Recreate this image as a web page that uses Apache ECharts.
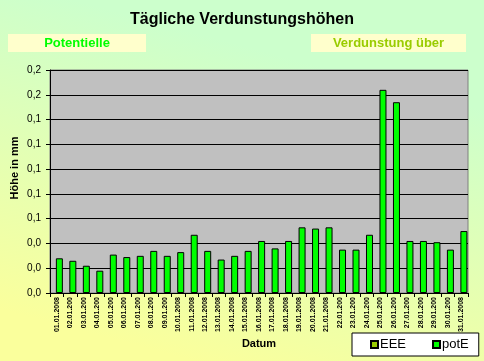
<!DOCTYPE html>
<html>
<head>
<meta charset="utf-8">
<style>
html,body{margin:0;padding:0;}
#chart{width:484px;height:361px;}
</style>
<script src="https://cdn.jsdelivr.net/npm/echarts@6/dist/echarts.min.js"></script>
</head>
<body>
<div id="chart"></div>
<script>
const categories = ['01.01.2008','02.01.200','03.01.200','04.01.200','05.01.200','06.01.200','07.01.200','08.01.200','09.01.200','10.01.2008','11.01.2008','12.01.2008','13.01.2008','14.01.2008','15.01.2008','16.01.2008','17.01.2008','18.01.2008','19.01.2008','20.01.2008','21.01.2008','22.01.200','23.01.200','24.01.200','25.01.200','26.01.200','27.01.200','28.01.200','29.01.200','30.01.200','31.01.2008'];
const potE = [0.028,0.026,0.022,0.018,0.031,0.029,0.030,0.034,0.030,0.033,0.047,0.034,0.027,0.030,0.034,0.042,0.036,0.042,0.053,0.052,0.053,0.035,0.035,0.047,0.164,0.154,0.042,0.042,0.041,0.035,0.050];
const EEE = [];
const titleText = 'Tägliche Verdunstungshöhen';
const sub1 = 'Potentielle';
const sub2 = 'Verdunstung über';
const yName = 'Höhe in mm';
const xName = 'Datum';

const FONT = 'Liberation Sans, Arial, sans-serif';
const chart = echarts.init(document.getElementById('chart'), null, {renderer:'canvas'});
chart.setOption({
  animation:false,
  backgroundColor: new echarts.graphic.LinearGradient(0.6,0,0.4,1,[
    {offset:0,color:'#CCFFCC'},{offset:0.15,color:'#CCFFCC'},{offset:1,color:'#FAFF9C'}
  ]),
  grid:{left:50,right:16,top:70,bottom:68,show:true,backgroundColor:'#C0C0C0',borderColor:'#808080',borderWidth:1},
  xAxis:{
    type:'category',data:categories,
    axisLine:{lineStyle:{color:'#000',width:1}},
    axisTick:{show:true,length:4,inside:false,alignWithLabel:false,lineStyle:{color:'#000'}},
    axisLabel:{interval:0,rotate:90,fontSize:7,fontWeight:'bold',color:'#000',fontFamily:FONT,margin:4},
    splitLine:{show:false}
  },
  yAxis:{
    type:'value',min:0,max:0.18,interval:0.02,
    axisLine:{show:true,lineStyle:{color:'#000',width:1}},
    axisTick:{show:true,length:4,lineStyle:{color:'#000'}},
    axisLabel:{fontSize:10,color:'#000',fontFamily:FONT,margin:9,formatter:v=>v.toFixed(1).replace('.',',')},
    splitLine:{show:true,lineStyle:{color:'#000',width:1}}
  },
  legend:{
    left:352,top:333,orient:'horizontal',
    backgroundColor:'#FFFFFF',borderColor:'#000',borderWidth:1,
    padding:[5,10,5,18],itemGap:26,itemWidth:7,itemHeight:7,
    textStyle:{fontSize:13,color:'#000',fontFamily:FONT,padding:[0,0,0,-3]},
    data:[{name:'EEE',icon:'rect'},{name:'potE',icon:'rect'}]
  },
  series:[
    {name:'EEE',type:'bar',data:EEE,barWidth:7,barGap:'-25%',itemStyle:{color:'#99CC00',borderColor:'#000',borderWidth:1}},
    {name:'potE',type:'bar',data:potE,barWidth:7,barGap:'-25%',itemStyle:{color:'#00FF00',borderColor:'#000',borderWidth:1}}
  ],
  graphic:[
    {type:'text',x:242,y:19.5,style:{text:titleText,font:'bold 16px '+FONT,fill:'#000',align:'center',verticalAlign:'middle'}},
    {type:'rect',shape:{x:8,y:34,width:138,height:18},style:{fill:'#FFFFCC'}},
    {type:'text',x:77,y:43,style:{text:sub1,font:'bold 13px '+FONT,fill:'#00FF00',align:'center',verticalAlign:'middle'}},
    {type:'rect',shape:{x:311,y:34,width:155,height:18},style:{fill:'#FFFFCC'}},
    {type:'text',x:388.5,y:43,style:{text:sub2,font:'bold 13px '+FONT,fill:'#99CC00',align:'center',verticalAlign:'middle'}},
    {type:'text',x:14.5,y:168,rotation:Math.PI/2,style:{text:yName,font:'bold 11px '+FONT,fill:'#000',align:'center',verticalAlign:'middle'}},
    {type:'text',x:259,y:343.5,style:{text:xName,font:'bold 11px '+FONT,fill:'#000',align:'center',verticalAlign:'middle'}}
  ]
});
</script>
</body>
</html>
